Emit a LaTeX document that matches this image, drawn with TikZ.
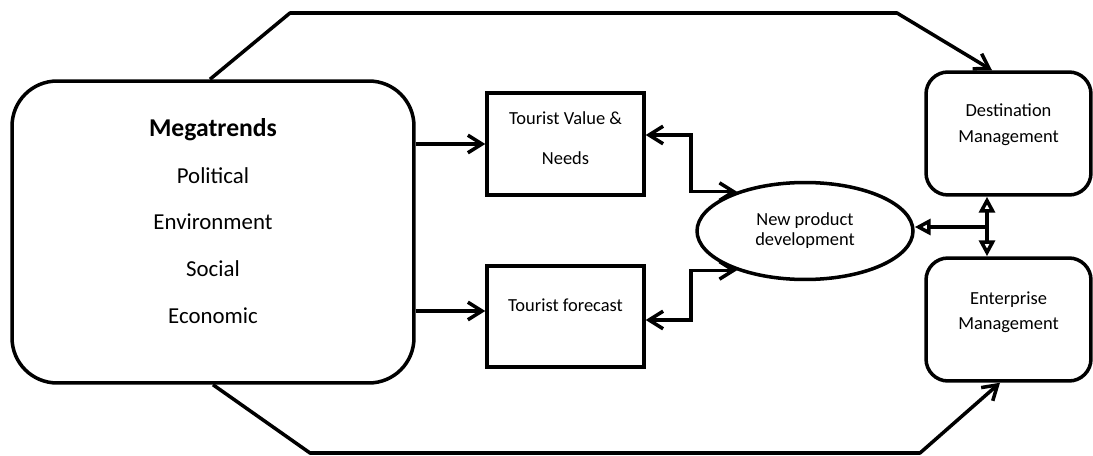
\documentclass[tikz,border=0pt]{standalone}
\usepackage{fontspec}
\setmainfont{Carlito}
\usetikzlibrary{shapes.geometric,arrows.meta,positioning,calc}

\begin{document}
\begin{tikzpicture}[x=0.02cm, y=-0.02cm, line width=2pt,
    box/.style={draw, line width=2pt, inner sep=0pt},
    arr/.style={-{Straight Barb[length=8pt,width=10pt]}},
    biarr/.style={{Straight Barb[length=8pt,width=10pt]}-{Straight Barb[length=8pt,width=10pt]}},
    tri/.style={-{Triangle[open,length=9pt,width=9pt,fill=white]}},
    bitri/.style={{Triangle[open,length=9pt,width=9pt,fill=white]}-{Triangle[open,length=9pt,width=9pt,fill=white]}}]
  \useasboundingbox (0,0) rectangle (1093,456);

  % boxes
  \node[box, rounded corners=0.9cm, minimum width=8.04cm, minimum height=6.04cm] (mega) at (213,232) {};
  \node[align=center, font=\fontsize{13}{26.6}\selectfont] (megatext) at (213,221) {
    {\bfseries\fontsize{14.6}{26.6}\selectfont Megatrends}\\
    Political\\
    Environment\\
    Social\\
    Economic};

  \node[box, minimum width=3.14cm, minimum height=2.04cm] (tv) at (565.5,144) {};
  \node[align=center, font=\fontsize{10.5}{22.7}\selectfont] (tvtext) at (565.5,138) {Tourist Value \&\\Needs};

  \node[box, minimum width=3.14cm, minimum height=2.02cm] (tf) at (565.5,316.5) {};
  \node[font=\fontsize{10.5}{12}\selectfont] (tftext) at (565.5,305) {Tourist forecast};

  \node[box, ellipse, minimum width=4.32cm, minimum height=1.94cm, align=center,
        font=\fontsize{10.5}{11.3}\selectfont] (np) at (805,231) {New product\\development};

  \node[box, rounded corners=0.44cm, minimum width=3.3cm, minimum height=2.46cm] (dest) at (1008.5,133.5) {};
  \node[align=center, font=\fontsize{10.5}{14.7}\selectfont] (desttext) at (1008.5,125) {Destination\\Management};

  \node[box, rounded corners=0.44cm, minimum width=3.3cm, minimum height=2.46cm] (ent) at (1008.5,319.5) {};
  \node[align=center, font=\fontsize{10.5}{14.2}\selectfont] (enttext) at (1008.5,312.5) {Enterprise\\Management};

  % connectors
  \draw[arr] (mega.east |- tv.west) -- (tv.west);
  \draw[arr] ([yshift=0.11cm]mega.east |- tf.west) -- ([yshift=0.11cm]tf.west);

  \draw[biarr] ([yshift=0.18cm]tv.east) -| ([xshift=-0.92cm]np.150) -- (np.150);
  \draw[biarr] ([yshift=-0.07cm]tf.east) -| ([xshift=-0.92cm]np.210) -- (np.210);

  \draw[bitri] ([xshift=-0.43cm]dest.south) -- ([xshift=-0.43cm]ent.north);
  \coordinate (hub) at (987,227);
  \draw[tri] (hub) -- (hub -| np.east);

  \draw[arr, line join=round] ([xshift=-0.06cm]mega.north) -- (290,13) -- (897,13) -- ([xshift=-0.33cm]dest.north);
  \draw[arr, line join=round] (mega.south) -- (310,453) -- (920,453) -- ([xshift=-0.17cm]ent.south);
\end{tikzpicture}
\end{document}
